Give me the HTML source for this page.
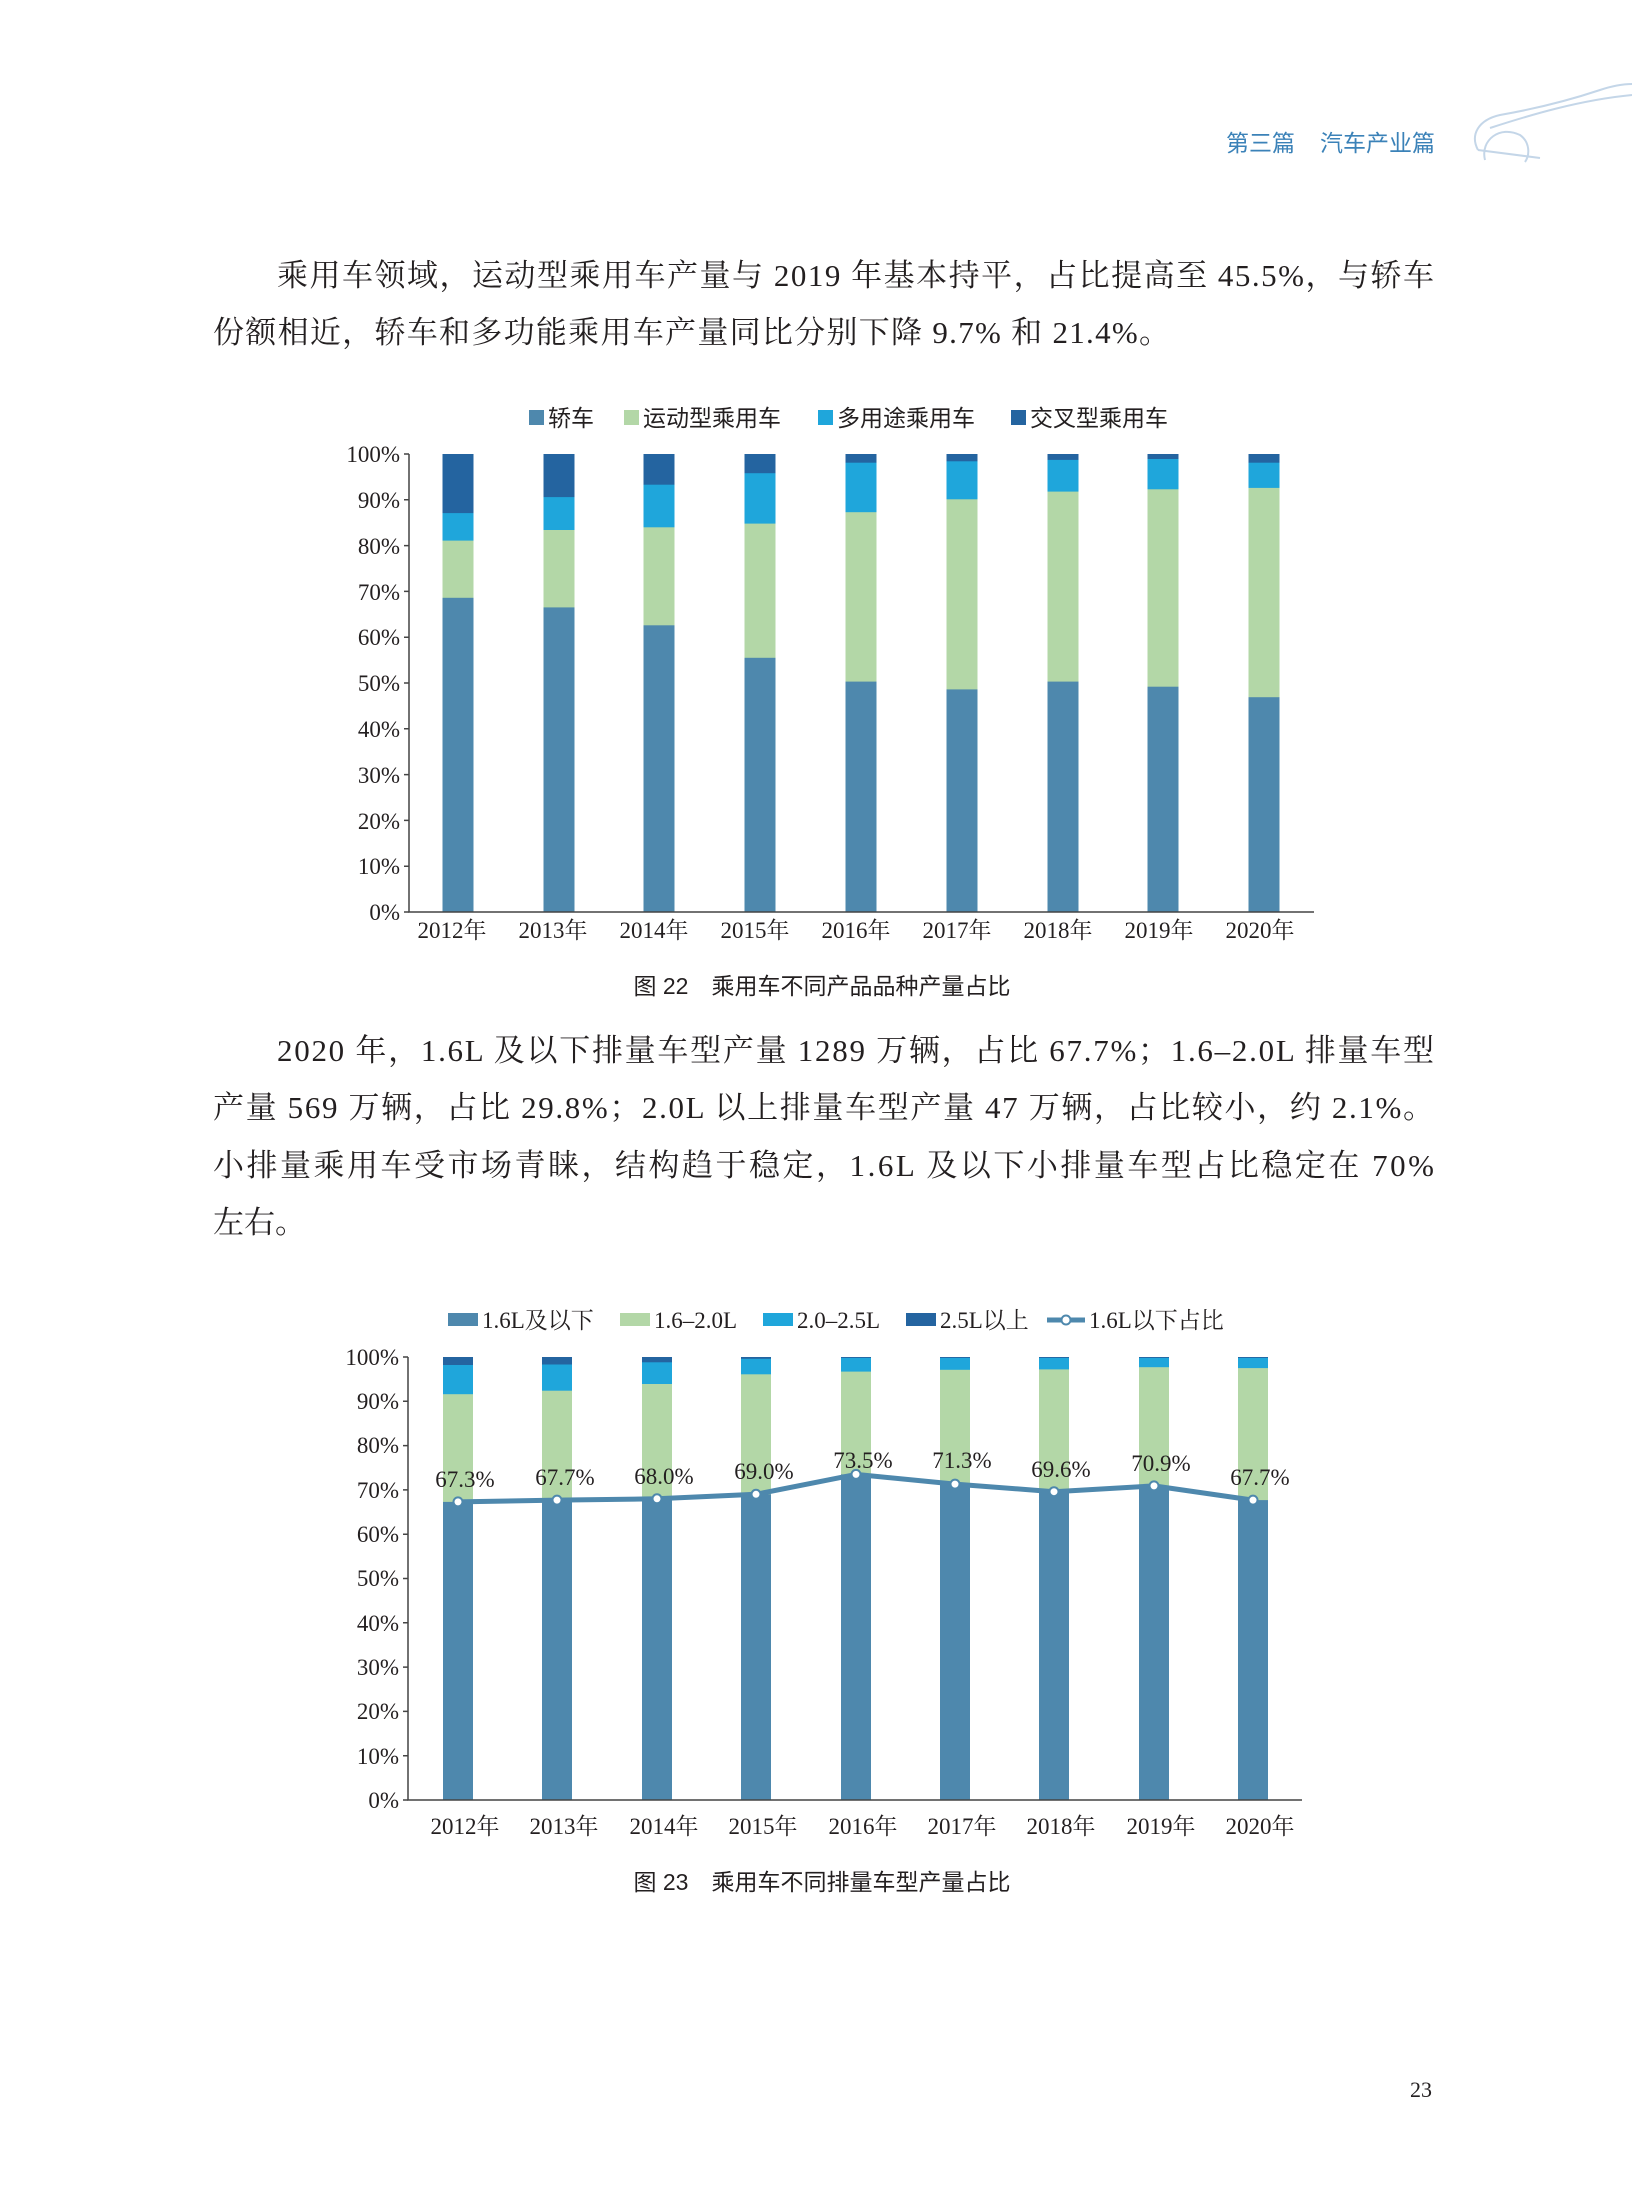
<!DOCTYPE html>
<html><head><meta charset="utf-8"><style>
html,body{margin:0;padding:0;background:#fff;}
svg{display:block;}
.s{font-family:"Liberation Serif","Noto Serif CJK SC",serif;}
.h{font-family:"Liberation Sans","Noto Sans CJK SC",sans-serif;}
</style></head><body>
<svg width="1632" height="2199" viewBox="0 0 1632 2199" xmlns="http://www.w3.org/2000/svg">
<rect width="1632" height="2199" fill="#fff"/>
<text x="1226" y="151" class="h" font-size="23" fill="#3b82b8">第三篇</text>
<text x="1320" y="151" class="h" font-size="23" fill="#3b82b8">汽车产业篇</text>
<g fill="none" stroke="#c4d6e8" stroke-width="2">
<path d="M1478 150 C1470 135 1478 120 1500 115 C1540 108 1570 100 1600 90 C1615 85 1625 84 1632 84"/>
<path d="M1490 128 C1530 115 1580 100 1632 95"/>
<path d="M1485 160 C1480 140 1500 125 1520 135 C1530 142 1530 155 1525 162"/>
<path d="M1478 150 L1540 158"/>
</g>
<g class="s" font-size="31" fill="#231f20">
<text x="277" y="286" textLength="1157" lengthAdjust="spacing">乘用车领域，运动型乘用车产量与 2019 年基本持平，占比提高至 45.5%，与轿车</text>
<text x="213" y="343" textLength="957" lengthAdjust="spacing">份额相近，轿车和多功能乘用车产量同比分别下降 9.7% 和 21.4%。</text>
<text x="277" y="1061" textLength="1157" lengthAdjust="spacing">2020 年，1.6L 及以下排量车型产量 1289 万辆，占比 67.7%；1.6–2.0L 排量车型</text>
<text x="213" y="1118" textLength="1221" lengthAdjust="spacing">产量 569 万辆，占比 29.8%；2.0L 以上排量车型产量 47 万辆，占比较小，约 2.1%。</text>
<text x="213" y="1176" textLength="1221" lengthAdjust="spacing">小排量乘用车受市场青睐，结构趋于稳定，1.6L 及以下小排量车型占比稳定在 70%</text>
<text x="213" y="1233">左右。</text>
</g>
<g class="h" font-size="23" fill="#231f20">
<rect x="529" y="410" width="15" height="15" fill="#4e88ad"/><text x="548" y="426">轿车</text>
<rect x="624" y="410" width="15" height="15" fill="#b3d7a7"/><text x="643" y="426">运动型乘用车</text>
<rect x="818" y="410" width="15" height="15" fill="#1fa6db"/><text x="837" y="426">多用途乘用车</text>
<rect x="1011" y="410" width="15" height="15" fill="#2464a0"/><text x="1030" y="426">交叉型乘用车</text>
</g>
<g>
<g transform="translate(442.5,0)"><rect y="454" width="31" height="458" fill="#2464a0"/><rect y="513.1" width="31" height="398.9" fill="#1fa6db"/><rect y="540.6" width="31" height="371.4" fill="#b3d7a7"/><rect y="597.8" width="31" height="314.2" fill="#4e88ad"/></g>
<g transform="translate(543.5,0)"><rect y="454" width="31" height="458" fill="#2464a0"/><rect y="497.1" width="31" height="414.9" fill="#1fa6db"/><rect y="530" width="31" height="382" fill="#b3d7a7"/><rect y="607.4" width="31" height="304.6" fill="#4e88ad"/></g>
<g transform="translate(643.5,0)"><rect y="454" width="31" height="458" fill="#2464a0"/><rect y="484.7" width="31" height="427.3" fill="#1fa6db"/><rect y="527.3" width="31" height="384.7" fill="#b3d7a7"/><rect y="625.3" width="31" height="286.7" fill="#4e88ad"/></g>
<g transform="translate(744.5,0)"><rect y="454" width="31" height="458" fill="#2464a0"/><rect y="473.2" width="31" height="438.8" fill="#1fa6db"/><rect y="523.6" width="31" height="388.4" fill="#b3d7a7"/><rect y="657.8" width="31" height="254.2" fill="#4e88ad"/></g>
<g transform="translate(845.5,0)"><rect y="454" width="31" height="458" fill="#2464a0"/><rect y="462.7" width="31" height="449.3" fill="#1fa6db"/><rect y="512.2" width="31" height="399.8" fill="#b3d7a7"/><rect y="681.6" width="31" height="230.4" fill="#4e88ad"/></g>
<g transform="translate(946.5,0)"><rect y="454" width="31" height="458" fill="#2464a0"/><rect y="461.3" width="31" height="450.7" fill="#1fa6db"/><rect y="499.3" width="31" height="412.7" fill="#b3d7a7"/><rect y="689.4" width="31" height="222.6" fill="#4e88ad"/></g>
<g transform="translate(1047.5,0)"><rect y="454" width="31" height="458" fill="#2464a0"/><rect y="459.9" width="31" height="452.1" fill="#1fa6db"/><rect y="491.6" width="31" height="420.4" fill="#b3d7a7"/><rect y="681.6" width="31" height="230.4" fill="#4e88ad"/></g>
<g transform="translate(1147.5,0)"><rect y="454" width="31" height="458" fill="#2464a0"/><rect y="459" width="31" height="453" fill="#1fa6db"/><rect y="489.3" width="31" height="422.7" fill="#b3d7a7"/><rect y="686.7" width="31" height="225.3" fill="#4e88ad"/></g>
<g transform="translate(1248.5,0)"><rect y="454" width="31" height="458" fill="#2464a0"/><rect y="462.7" width="31" height="449.3" fill="#1fa6db"/><rect y="487.9" width="31" height="424.1" fill="#b3d7a7"/><rect y="697.2" width="31" height="214.8" fill="#4e88ad"/></g>
</g>
<g stroke="#444" stroke-width="1.5" fill="none">
<path d="M409 454 V912 H1314"/>
<path d="M404 454H409M404 499.8H409M404 545.6H409M404 591.4H409M404 637.2H409M404 683H409M404 728.8H409M404 774.6H409M404 820.4H409M404 866.2H409M404 912H409"/>
</g>
<g class="s" font-size="23" fill="#231f20" text-anchor="end">
<text x="400" y="462">100%</text><text x="400" y="508">90%</text><text x="400" y="554">80%</text><text x="400" y="600">70%</text><text x="400" y="645">60%</text><text x="400" y="691">50%</text><text x="400" y="737">40%</text><text x="400" y="783">30%</text><text x="400" y="829">20%</text><text x="400" y="874">10%</text><text x="400" y="920">0%</text>
</g>
<g class="s" font-size="23" fill="#231f20" text-anchor="middle">
<text x="452" y="938">2012年</text><text x="553" y="938">2013年</text><text x="654" y="938">2014年</text><text x="755" y="938">2015年</text><text x="856" y="938">2016年</text><text x="957" y="938">2017年</text><text x="1058" y="938">2018年</text><text x="1159" y="938">2019年</text><text x="1260" y="938">2020年</text>
</g>
<text x="822" y="994" class="h" font-size="23" fill="#231f20" text-anchor="middle">图 22　乘用车不同产品品种产量占比</text>

<g class="s" font-size="23" fill="#231f20">
<rect x="448" y="1313" width="30" height="13" fill="#4e88ad"/><text x="482" y="1328">1.6L及以下</text>
<rect x="620" y="1313" width="30" height="13" fill="#b3d7a7"/><text x="654" y="1328">1.6–2.0L</text>
<rect x="763" y="1313" width="30" height="13" fill="#1fa6db"/><text x="797" y="1328">2.0–2.5L</text>
<rect x="906" y="1313" width="30" height="13" fill="#2464a0"/><text x="940" y="1328">2.5L以上</text>
<path d="M1047 1320H1085" stroke="#4e88ad" stroke-width="5"/><circle cx="1066" cy="1320" r="4.5" fill="#fff" stroke="#4e88ad" stroke-width="2"/><text x="1089" y="1328">1.6L以下占比</text>
</g>
<g transform="translate(3,0)">
<g transform="translate(440,0)"><rect y="1357" width="30" height="443" fill="#2464a0"/><rect y="1365" width="30" height="435" fill="#1fa6db"/><rect y="1394.2" width="30" height="405.8" fill="#b3d7a7"/><rect y="1501.9" width="30" height="298.1" fill="#4e88ad"/></g>
<g transform="translate(539,0)"><rect y="1357" width="30" height="443" fill="#2464a0"/><rect y="1364.5" width="30" height="435.5" fill="#1fa6db"/><rect y="1390.7" width="30" height="409.3" fill="#b3d7a7"/><rect y="1500.1" width="30" height="299.9" fill="#4e88ad"/></g>
<g transform="translate(639,0)"><rect y="1357" width="30" height="443" fill="#2464a0"/><rect y="1362.3" width="30" height="437.7" fill="#1fa6db"/><rect y="1384" width="30" height="416" fill="#b3d7a7"/><rect y="1498.8" width="30" height="301.2" fill="#4e88ad"/></g>
<g transform="translate(738,0)"><rect y="1357" width="30" height="443" fill="#2464a0"/><rect y="1358.8" width="30" height="441.2" fill="#1fa6db"/><rect y="1374.3" width="30" height="425.7" fill="#b3d7a7"/><rect y="1494.3" width="30" height="305.7" fill="#4e88ad"/></g>
<g transform="translate(838,0)"><rect y="1357" width="30" height="443" fill="#2464a0"/><rect y="1357.9" width="30" height="442.1" fill="#1fa6db"/><rect y="1371.6" width="30" height="428.4" fill="#b3d7a7"/><rect y="1474.4" width="30" height="325.6" fill="#4e88ad"/></g>
<g transform="translate(937,0)"><rect y="1357" width="30" height="443" fill="#2464a0"/><rect y="1357.9" width="30" height="442.1" fill="#1fa6db"/><rect y="1369.8" width="30" height="430.2" fill="#b3d7a7"/><rect y="1484.1" width="30" height="315.9" fill="#4e88ad"/></g>
<g transform="translate(1036,0)"><rect y="1357" width="30" height="443" fill="#2464a0"/><rect y="1357.9" width="30" height="442.1" fill="#1fa6db"/><rect y="1369.4" width="30" height="430.6" fill="#b3d7a7"/><rect y="1491.7" width="30" height="308.3" fill="#4e88ad"/></g>
<g transform="translate(1136,0)"><rect y="1357" width="30" height="443" fill="#2464a0"/><rect y="1357.9" width="30" height="442.1" fill="#1fa6db"/><rect y="1367.2" width="30" height="432.8" fill="#b3d7a7"/><rect y="1485.9" width="30" height="314.1" fill="#4e88ad"/></g>
<g transform="translate(1235,0)"><rect y="1357" width="30" height="443" fill="#2464a0"/><rect y="1357.9" width="30" height="442.1" fill="#1fa6db"/><rect y="1368.1" width="30" height="431.9" fill="#b3d7a7"/><rect y="1500.1" width="30" height="299.9" fill="#4e88ad"/></g>
<polyline points="455,1501.9 554,1500.1 654,1498.8 753,1494.3 853,1474.4 952,1484.1 1051,1491.7 1151,1485.9 1250,1500.1" fill="none" stroke="#4e88ad" stroke-width="5" stroke-linejoin="round"/>
<g fill="#fff" stroke="#4e88ad" stroke-width="2">
<circle cx="455" cy="1501.9" r="4.5"/><circle cx="554" cy="1500.1" r="4.5"/><circle cx="654" cy="1498.8" r="4.5"/><circle cx="753" cy="1494.3" r="4.5"/><circle cx="853" cy="1474.4" r="4.5"/><circle cx="952" cy="1484.1" r="4.5"/><circle cx="1051" cy="1491.7" r="4.5"/><circle cx="1151" cy="1485.9" r="4.5"/><circle cx="1250" cy="1500.1" r="4.5"/>
</g>
<g class="s" font-size="23" fill="#231f20" text-anchor="middle">
<text x="462" y="1487">67.3%</text><text x="562" y="1485">67.7%</text><text x="661" y="1484">68.0%</text><text x="761" y="1479">69.0%</text><text x="860" y="1468">73.5%</text><text x="959" y="1468">71.3%</text><text x="1058" y="1477">69.6%</text><text x="1158" y="1471">70.9%</text><text x="1257" y="1485">67.7%</text>
</g>
</g>
<g stroke="#444" stroke-width="1.5" fill="none">
<path d="M408 1357 V1800 H1302"/>
<path d="M403 1357H408M403 1401.3H408M403 1445.6H408M403 1489.9H408M403 1534.2H408M403 1578.5H408M403 1622.8H408M403 1667.1H408M403 1711.4H408M403 1755.7H408M403 1800H408"/>
</g>
<g class="s" font-size="23" fill="#231f20" text-anchor="end">
<text x="399" y="1365">100%</text><text x="399" y="1409">90%</text><text x="399" y="1453">80%</text><text x="399" y="1498">70%</text><text x="399" y="1542">60%</text><text x="399" y="1586">50%</text><text x="399" y="1631">40%</text><text x="399" y="1675">30%</text><text x="399" y="1719">20%</text><text x="399" y="1764">10%</text><text x="399" y="1808">0%</text>
</g>
<g class="s" font-size="23" fill="#231f20" text-anchor="middle">
<text x="465" y="1834">2012年</text><text x="564" y="1834">2013年</text><text x="664" y="1834">2014年</text><text x="763" y="1834">2015年</text><text x="863" y="1834">2016年</text><text x="962" y="1834">2017年</text><text x="1061" y="1834">2018年</text><text x="1161" y="1834">2019年</text><text x="1260" y="1834">2020年</text>
</g>
<text x="822" y="1890" class="h" font-size="23" fill="#231f20" text-anchor="middle">图 23　乘用车不同排量车型产量占比</text>
<text x="1421" y="2097" class="s" font-size="22" fill="#231f20" text-anchor="middle">23</text>
</svg>
</body></html>
